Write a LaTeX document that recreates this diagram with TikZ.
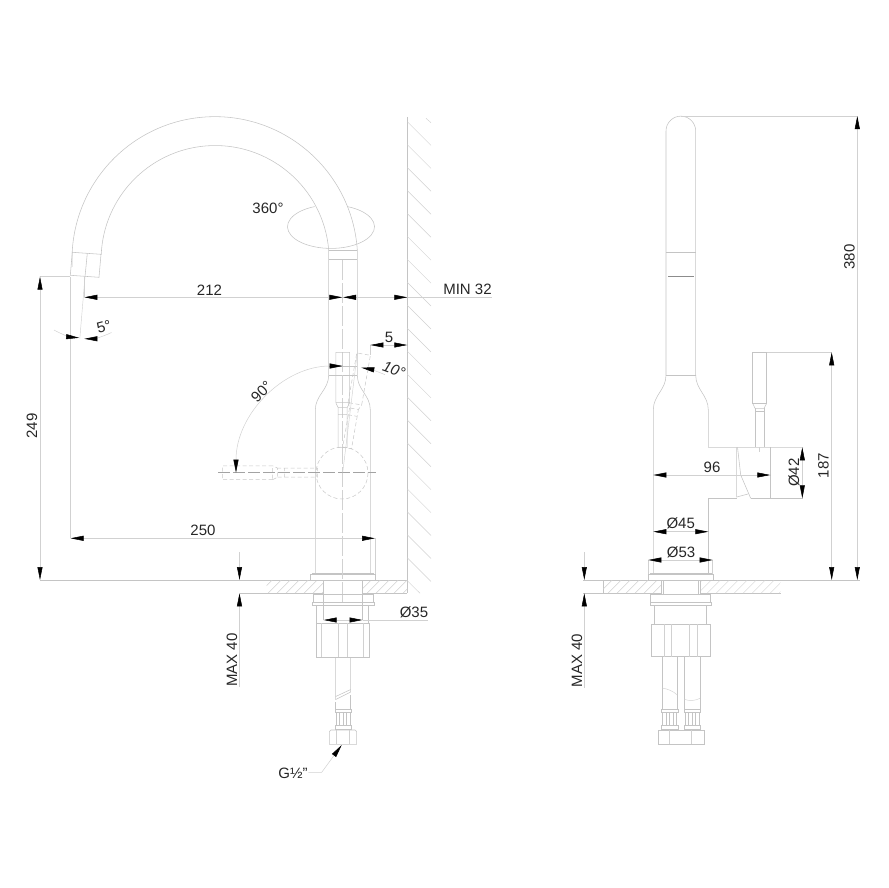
\documentclass[tikz,border=0pt]{standalone}
\usepackage{fontspec}
\setmainfont{Liberation Sans}
\usetikzlibrary{arrows.meta, calc}

% lever drawn upright, origin on the pivot
\newcommand{\leverpath}{
    (-6.9,-70) rectangle (6.9,-120.4)
    (-6.9,-70) -- (-4.5,-65) -- (4.5,-65) -- (6.9,-70)
    (-4.5,-65) -- (-4.5,-58) -- (4.5,-58) -- (4.5,-65)
    (-4.5,-58) -- (-4.5,-25) -- (4.5,-25) -- (4.5,-58)
}
% threaded end of a hose, origin on its axis at the top band
\newcommand{\hoseend}[1]{
    \draw[part, shift={(#1,709.3)}] (-8.1,0) rectangle (8.1,3.4) (-8.1,16) rectangle (8.1,20);
    \foreach \ridge in {-7,-3.5,0,3.5,7}
        \draw[part, shift={(#1,709.3)}] (\ridge,3.4) -- (\ridge,16);
}

\tikzset{
    part/.style={line width=0.55pt, black!23},
    thinpart/.style={line width=0.45pt, black!18},
    hiddenpart/.style={line width=0.5pt, black!22, dash pattern=on 4pt off 2.5pt},
    axisline/.style={line width=0.45pt, black!18, dash pattern=on 20pt off 3pt},
    dimline/.style={line width=0.5pt, black!18, >={Triangle[length=13pt,width=5pt,black]}},
    dimtext/.style={font=\fontsize{15}{17}\selectfont, text=black!85, inner sep=0pt}
}

\begin{document}
\begin{tikzpicture}[x=1pt, y=1pt, yscale=-1]
    \useasboundingbox (0,0) rectangle (888,888);

    % Wall
    \draw[part] (407.3,117) -- (407.3,593.3);
    \foreach \ypos in {121.7,144.65,...,565}
        \draw[thinpart] (407.3,\ypos) -- (431,{\ypos+23.7});
    \draw[thinpart] (426,118.3) -- (431,122.7);
    \draw[thinpart] (407.3,580.7) -- (420,593.3);

    % Worktop, left view
    \draw[part] (40,580) -- (310,580);
    \draw[part] (375,580) -- (407.3,580);
    \draw[part] (240,593.3) -- (323.5,593.3);
    \draw[part] (362.7,593.3) -- (407.3,593.3);
    \begin{scope}
        \clip (266.7,580) rectangle (323.5,593.3) (362.7,580) rectangle (407.3,593.3);
        \foreach \xpos in {250,259,...,410}
            \draw[thinpart] (\xpos,593.3) -- ({\xpos+13.3},580);
    \end{scope}

    % Spout, left view
    \draw[part] (357.3,250) arc[start angle=-3.8, end angle=-183, radius=142.8];
    \draw[part] (328.7,250) arc[start angle=-4.8, end angle=-177.5, radius=114];
    \draw[part] (72.3,252.3) -- (101,254.3) -- (99,277.3) -- (70.3,275.3) -- cycle;
    \draw[part] (87.3,253.3) -- (85,276.7);
    \draw[thinpart] (85,276.7) -- (79.8,338.7);

    % Swivel ellipse
    \draw[part] (331,226.7) ++(-68:43.5 and 21.7) arc[start angle=-68, end angle=248, x radius=43.5, y radius=21.7];
    \node[dimtext] (swiveltext) at (268,208.5) {360°};

    % Body, left view
    \draw[part] (328.7,250) -- (328.7,375) .. controls (328.7,390) and (315.3,395) .. (315.3,410) -- (315.3,573.5);
    \draw[part] (357.3,250) -- (357.3,375) .. controls (357.3,390) and (370.3,395) .. (370.3,410) -- (370.3,573.5);
    \draw[part] (328.7,250) -- (357.3,250) (328.7,259.3) -- (357.3,259.3);
    \draw[part] (328.7,366) -- (357.3,366) (328.7,375) -- (357.3,375);
    \draw[part] (310.3,574.3) rectangle (375.3,580);
    \draw[part] (312,573.4) -- (373.6,573.4);
    \draw[axisline] (342.5,260) -- (342.5,603);

    % Lever, upright and the two swung positions
    \draw[part, shift={(342.7,472.7)}] \leverpath;
    \draw[hiddenpart, shift={(342.7,472.7)}, rotate=10] \leverpath;
    \draw[hiddenpart, shift={(342.7,472.7)}, rotate=-90] \leverpath;
    \draw[hiddenpart] (342,473) circle (26);
    \draw[axisline, black!36, dash pattern=on 12pt off 3pt] (218,472.7) -- (376,472.7);
    \draw[thinpart] (342.7,472.7) -- (357.3,352.7);

    % Parts below the worktop, left view
    \draw[part] (323.5,580) -- (323.5,620) (362.7,580) -- (362.7,620);
    \draw[part] (313.3,594.3) rectangle (373.3,602.7);
    \draw[part] (312.7,602.7) rectangle (374.3,605);
    \draw[part] (316.7,605) -- (316.7,623.3) (368.3,605) -- (368.3,623.3);
    \draw[part] (316.3,623.3) rectangle (369,657);
    \foreach \xpos in {321,338.3,347.3,363.3}
        \draw[thinpart] (\xpos,623.3) -- (\xpos,657);
    \draw[part] (335.7,657) -- (335.7,699.5) -- (350.7,692) -- (350.7,657);
    \draw[part] (335.7,696.5) -- (350.7,689.5);
    \draw[part] (335.7,702) -- (335.7,709.3) (350.7,695) -- (350.7,709.3);
    \hoseend{343.2}
    \draw[part] (329.3,731.5) -- (331,730) -- (355,730) -- (356.7,731.5) -- (356.7,744.3) -- (329.3,744.3) -- cycle;
    \draw[thinpart] (336.7,730) -- (336.7,744.3) (349.3,730) -- (349.3,744.3);

    % Dimensions, left view
    \draw[thinpart] (40,276.7) -- (70.3,276.7);
    \draw[thinpart] (70.3,276.7) -- (70.3,538.3);
    \draw[thinpart] (84.3,276.7) -- (84.3,297.3);
    \draw[dimline, <->] (40,276.7) -- (40,580);
    \node[dimtext, rotate=90] (heighttext) at (32,426) {249};
    \draw[dimline, <->] (84.3,297.3) -- (342.3,297.3);
    \node[dimtext] (reachtext) at (209.5,290) {212};
    \draw[dimline, ->] (492,297.3) -- (343,297.3);
    \draw[dimline, ->] (380,297.3) -- (407.3,297.3);
    \node[dimtext] (walltext) at (467.5,289.5) {MIN 32};
    \draw[dimline, ->] (54,330) arc[start angle=119.5, end angle=95, radius=62];
    \draw[dimline, ->] (111.5,332.5) arc[start angle=64, end angle=90, radius=62];
    \node[dimtext, rotate=15] (tilttext) at (104,326.5) {5°};
    \draw[thinpart] (370.4,345) -- (370.4,355.3);
    \draw[dimline, <->] (370.4,345) -- (407.3,345);
    \node[dimtext] (gaptext) at (389,337.5) {5};
    \draw[dimline, <->] (342.7,366) arc[start angle=-90, end angle=-180, radius=106.7];
    \node[dimtext, rotate=45] (swingtext) at (261.5,391.5) {90°};
    \draw[dimline, ->] (385,374.7) arc[start angle=-66.7, end angle=-80, radius=106.7];
    \node[dimtext, rotate=-20] (sidetext) at (394,370) {\itshape 10°};
    \draw[thinpart] (375,538.3) -- (375,574);
    \draw[dimline, <->] (70.5,538.3) -- (375,538.3);
    \node[dimtext] (spantext) at (203,530.5) {250};
    \draw[dimline, ->] (239.5,552) -- (239.5,580);
    \draw[dimline, ->] (239.5,687) -- (239.5,593.3);
    \node[dimtext, rotate=90] (maxtext) at (232,660) {MAX 40};
    \draw[dimline, <->] (323.7,620) -- (362.5,620);
    \draw[dimline] (362.5,620) -- (428,620);
    \node[dimtext] (holetext) at (414,612) {Ø35};
    \coordinate (threadtip) at (341.7,745);
    \coordinate (threadbend) at (321.7,772.3);
    \coordinate (threadend) at (308.3,772.3);
    \draw[dimline, <-] (threadtip) -- (threadbend) -- (threadend);
    \node[dimtext] (threadtext) at (293,773) {G½"};

    % Spout and body, right view
    \draw[part] (666,375) -- (666,131) arc[start angle=180, end angle=360, radius=14.85] -- (695.7,375);
    \draw[part] (666,375) .. controls (666,390) and (653.3,395) .. (653.3,410) -- (653.3,573.5);
    \draw[part] (695.7,375) .. controls (695.7,390) and (708.3,395) .. (708.3,410) -- (708.3,447.3) -- (803,447.3);
    \draw[part] (708.3,573.5) -- (708.3,498.3) -- (737,498.3);
    \draw[part] (750.7,498.3) -- (803,498.3);
    \draw[part] (666,252.7) -- (695.7,252.7) (666,375) -- (695.7,375);
    \draw[line width=0.9pt, black!45] (668,276.3) -- (693.7,276.3);
    \draw[part] (736.7,447.3) -- (736.7,497) -- (748,494);
    \draw[part] (737.5,447.3) -- (740.7,475) -- (750.7,498.3);
    \draw[part] (770.3,447.3) -- (770.3,498.3);
    \draw[part] (752.7,352.3) rectangle (766.7,403.3);
    \draw[part] (752.7,403.3) -- (755,408.3) -- (764,408.3) -- (766.7,403.3);
    \draw[part] (755,408.3) -- (755,411.7) -- (764,411.7) -- (764,408.3);
    \draw[part] (755,411.7) -- (755,447.3) (764,411.7) -- (764,447.3);
    \draw[thinpart] (759.3,447.3) -- (759.3,452);

    % Worktop, right view
    \draw[part] (583,580) -- (648.3,580);
    \draw[part] (713.3,580) -- (860,580);
    \draw[part] (583,593.3) -- (661,593.3) (700,593.3) -- (780.7,593.3);
    \draw[part] (603.3,580) -- (603.3,593.3);
    \begin{scope}
        \clip (603.3,580) rectangle (661,593.3) (700,580) rectangle (780.7,593.3);
        \foreach \xpos in {590,599,...,785}
            \draw[thinpart] (\xpos,593.3) -- ({\xpos+13.3},580);
    \end{scope}

    % Parts below the worktop, right view
    \draw[part] (648.3,574.3) rectangle (713.3,580);
    \draw[part] (650,573.4) -- (711.6,573.4);
    \draw[part] (661,580) -- (661,594) (663.7,580) -- (663.7,594) (700,580) -- (700,594) (698,580) -- (698,594);
    \draw[part] (650.7,594.3) rectangle (710,602.7);
    \draw[part] (650,602.7) rectangle (711.7,605);
    \draw[part] (654.3,605) -- (654.3,624) (706.7,605) -- (706.7,624);
    \draw[part] (651.7,624) rectangle (710.7,656.7);
    \foreach \xpos in {664,671.7,689.3,697.7}
        \draw[thinpart] (\xpos,624) -- (\xpos,656.7);
    \draw[part] (662,656.7) -- (662,709.3) (677.3,656.7) -- (677.3,709.3);
    \draw[part] (684.3,656.7) -- (684.3,709.3) (700,656.7) -- (700,709.3);
    \draw[thinpart] (662,688) .. controls (668,689) and (673,691) .. (677.3,695);
    \draw[thinpart] (684.3,699.3) .. controls (689,701) and (695,701) .. (700,698.3);
    \hoseend{669.7}
    \hoseend{692.2}
    \draw[part] (658.3,730) rectangle (704,744.3);
    \draw[thinpart] (669.3,730) -- (669.3,744.3) (691.7,730) -- (691.7,744.3);

    % Dimensions, right view
    \draw[thinpart] (681,116) -- (857.3,116);
    \draw[thinpart] (766.7,352.3) -- (831.7,352.3);
    \draw[dimline, <->] (857.3,116) -- (857.3,580);
    \node[dimtext, rotate=90] (totaltext) at (849.5,257) {380};
    \draw[dimline, <->] (831.7,352.3) -- (831.7,580);
    \node[dimtext, rotate=90] (levertext) at (823.5,465.5) {187};
    \draw[dimline, <->] (802.3,447.3) -- (802.3,498.3);
    \node[dimtext, rotate=90] (outlettext) at (794,472.5) {Ø42};
    \draw[dimline, <->] (653.3,475) -- (770.3,475);
    \node[dimtext] (depthtext) at (712,467) {96};
    \draw[dimline, <->] (653.3,531.7) -- (708.3,531.7);
    \node[dimtext] (bodytext) at (680.7,523.5) {Ø45};
    \draw[thinpart] (648.3,560) -- (648.3,574) (712.7,560) -- (712.7,574);
    \draw[dimline, <->] (648.3,560) -- (712.7,560);
    \node[dimtext] (basetext) at (681,552) {Ø53};
    \draw[dimline, ->] (584.3,552) -- (584.3,580);
    \draw[dimline, ->] (584.3,688) -- (584.3,593.3);
    \node[dimtext, rotate=90] (maxsidetext) at (577,660.5) {MAX 40};
\end{tikzpicture}
\end{document}
